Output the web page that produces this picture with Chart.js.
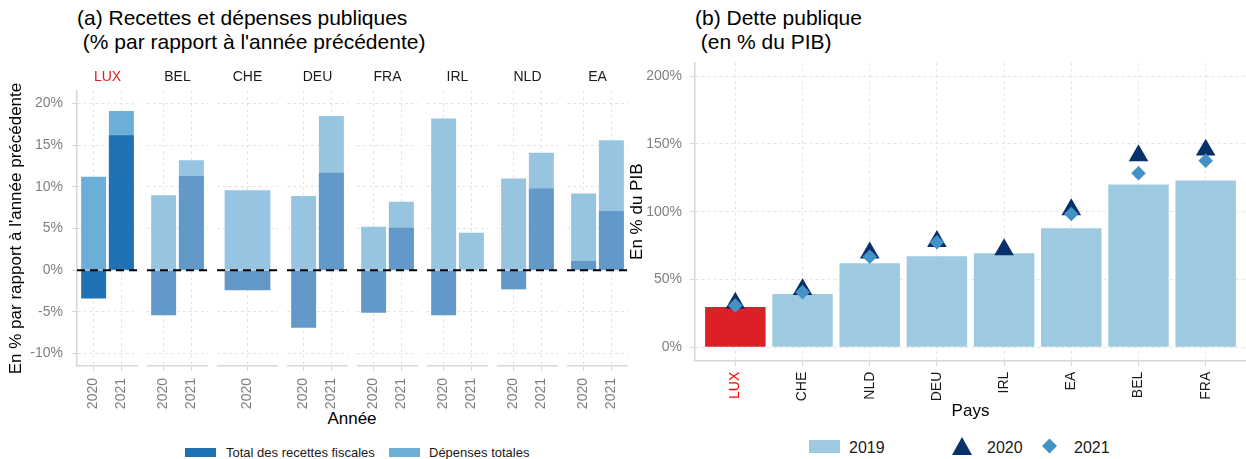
<!DOCTYPE html>
<html>
<head>
<meta charset="utf-8">
<script src="https://cdn.jsdelivr.net/npm/chart.js@4.4.1/dist/chart.umd.min.js"></script>
<style>
  html, body { margin:0; padding:0; background:#fff; }
  body { width:1246px; height:459px; position:relative; overflow:hidden;
         font-family:"Liberation Sans", Arial, sans-serif; color:#000; }
  .abs { position:absolute; white-space:pre; }
  .ttl { font-size:21px; line-height:24px; }
  canvas { position:absolute; }
</style>
</head>
<body>
<div class="abs ttl" style="left:77px;top:6px">(a) Recettes et dépenses publiques
 (% par rapport à l'année précédente)</div>
<div class="abs ttl" style="left:695px;top:6px">(b) Dette publique
 (en % du PIB)</div>

<div class="abs" style="left:252px;top:409px;width:200px;text-align:center;font-size:17px;line-height:20px">Année</div>

<div class="abs" style="left:185px;top:448px;width:31px;height:9px;background:#2171b5"></div>
<div class="abs" style="left:226px;top:445px;font-size:13px;line-height:15px;color:#1a1a1a">Total des recettes fiscales</div>
<div class="abs" style="left:389px;top:448px;width:31px;height:9px;background:#6baed6"></div>
<div class="abs" style="left:429px;top:445px;font-size:13px;line-height:15px;color:#1a1a1a">Dépenses totales</div>

<div class="abs" style="left:809px;top:440px;width:31px;height:13px;background:#9ecae1"></div>
<div class="abs" style="left:849px;top:439px;font-size:16px;line-height:18px;color:#1a1a1a">2019</div>
<svg class="abs" style="left:952px;top:437px" width="20" height="18"><polygon points="10,0 20,18 0,18" fill="#08306b"/></svg>
<div class="abs" style="left:987px;top:439px;font-size:16px;line-height:18px;color:#1a1a1a">2020</div>
<svg class="abs" style="left:1042px;top:438px" width="15" height="16"><polygon points="7.5,0.5 15,8 7.5,15.5 0,8" fill="#4292c6"/></svg>
<div class="abs" style="left:1074px;top:439px;font-size:16px;line-height:18px;color:#1a1a1a">2021</div>

<canvas id="f0" width="138" height="352" style="left:0px;top:61px"></canvas>
<canvas id="f1" width="61" height="352" style="left:147px;top:61px"></canvas>
<canvas id="f2" width="61" height="352" style="left:217px;top:61px"></canvas>
<canvas id="f3" width="61" height="352" style="left:287px;top:61px"></canvas>
<canvas id="f4" width="61" height="352" style="left:357px;top:61px"></canvas>
<canvas id="f5" width="61" height="352" style="left:427px;top:61px"></canvas>
<canvas id="f6" width="61" height="352" style="left:497px;top:61px"></canvas>
<canvas id="f7" width="61" height="352" style="left:567px;top:61px"></canvas>
<canvas id="debt" width="626" height="370" style="left:620px;top:55px"></canvas>

<script>
// ---------- Data: panel (a) ----------
const countriesA = ['LUX', 'BEL', 'CHE', 'DEU', 'FRA', 'IRL', 'NLD', 'EA'];
const yearsA = [['2020','2021'], ['2020','2021'], ['2020'], ['2020','2021'],
                ['2020','2021'], ['2020','2021'], ['2020','2021'], ['2020','2021']];
const recettes = [[-3.4, 16.2], [-5.4, 11.3], [-2.4], [-6.9, 11.7],
                  [-5.1, 5.1], [-5.4, null], [-2.3, 9.8], [1.1, 7.1]];
const depenses = [[11.2, 19.1], [9.0, 13.2], [9.6], [8.9, 18.5],
                  [5.2, 8.2], [18.2, 4.5], [11.0, 14.1], [9.2, 15.6]];
const yTicksA = [-10, -5, 0, 5, 10, 15, 20];

// ---------- Data: panel (b) ----------
const countriesB = ['LUX', 'CHE', 'NLD', 'DEU', 'IRL', 'EA', 'BEL', 'FRA'];
const dette2019 = [29.7, 39.2, 62.0, 67.2, 69.4, 87.7, 120.1, 123.0];
const dette2020 = [32.5, 42.6, 69.6, 78.2, 72.1, 101.5, 141.4, 145.6];
const dette2021 = [30.8, 40.6, 66.7, 77.5, null, 98.3, 128.4, 137.7];
const yTicksB = [0, 50, 100, 150, 200];

Chart.defaults.font.family = '"Liberation Sans", Arial, sans-serif';
Chart.defaults.animation = false;

const GRID = '#dedede';
const AXIS = '#d6d6d6';

const noPad = s => { s.paddingTop = 0; s.paddingBottom = 0; s.paddingLeft = 0; s.paddingRight = 0; };

const zeroLine = {
  id: 'zeroLine',
  afterDatasetsDraw(chart) {
    const {ctx, chartArea: a, scales: {y}} = chart;
    const py = y.getPixelForValue(0);
    ctx.save();
    ctx.setLineDash([8, 5]);
    ctx.lineWidth = 2;
    ctx.strokeStyle = '#000';
    ctx.beginPath();
    ctx.moveTo(a.left, py);
    ctx.lineTo(a.right, py);
    ctx.stroke();
    ctx.restore();
  }
};

countriesA.forEach((c, i) => {
  const first = i === 0;
  const hi = c === 'LUX';
  const yrs = yearsA[i];
  const n = yrs.length;
  const bp = n === 1 ? 0.75 : 0.9;
  new Chart(document.getElementById('f' + i), {
    type: 'bar',
    data: {
      datasets: [
        { label: 'Total des recettes fiscales',
          data: yrs.map((y, j) => ({x: j + 1, y: recettes[i][j]})),
          backgroundColor: hi ? '#2171b5' : '#6399c8',
          grouped: false, categoryPercentage: 1, barPercentage: bp },
        { label: 'Dépenses totales',
          data: yrs.map((y, j) => ({x: j + 1, y: depenses[i][j]})),
          backgroundColor: hi ? '#6baed6' : '#97c4e0',
          grouped: false, categoryPercentage: 1, barPercentage: bp }
      ]
    },
    options: {
      responsive: false,
      animation: false,
      layout: { padding: 0, autoPadding: false },
      plugins: {
        legend: { display: false },
        tooltip: { enabled: false },
        title: { display: true, fullSize: false, text: c, color: hi ? '#e41a1c' : '#1a1a1a',
                 font: { size: 14, weight: 'normal' }, padding: { top: 8, bottom: 5.2 } }
      },
      scales: {
        x: {
          type: 'linear', min: 0.4, max: n + 0.6, offset: false,
          afterBuildTicks: s => { s.ticks = yrs.map((y, j) => ({value: j + 1})); },
          afterFit: s => { s.height = 47; noPad(s); },
          ticks: { callback: v => yrs[v - 1], minRotation: 90, maxRotation: 90, autoSkip: false,
                   color: '#7f7f7f', font: { size: 14 }, padding: 7 },
          grid: { offset: false, color: GRID, lineWidth: 0.8, tickLength: 5, tickColor: AXIS, tickWidth: 1 },
          border: { display: true, color: AXIS, width: 1.5, dash: [3, 3] }
        },
        y: {
          min: -11.5, max: 21.5,
          afterBuildTicks: s => { s.ticks = yTicksA.map(v => ({value: v})); },
          afterFit: s => { s.width = first ? 77 : 0; noPad(s); },
          ticks: { display: first, callback: v => v + '%', color: '#7f7f7f', font: { size: 14 }, padding: 9 },
          grid: { color: GRID, lineWidth: 0.8, drawTicks: first, tickLength: 5, tickColor: AXIS, tickWidth: 1 },
          border: { display: first, color: AXIS, width: 1.5, dash: [3, 3] },
          title: { display: first, text: "En % par rapport à l'année précédente", color: '#000',
                   font: { size: 17 }, padding: { top: 6, bottom: 0 } }
        }
      }
    },
    plugins: [zeroLine]
  });
});

new Chart(document.getElementById('debt'), {
  type: 'bar',
  data: {
    datasets: [
      { type: 'bar', label: '2019',
        data: countriesB.map((c, i) => ({x: i + 1, y: dette2019[i]})),
        backgroundColor: countriesB.map(c => c === 'LUX' ? '#dd2027' : '#9ecae1'),
        grouped: false, categoryPercentage: 1, barPercentage: 0.9, order: 3 },
      { type: 'line', label: '2020',
        data: countriesB.map((c, i) => ({x: i + 1, y: dette2020[i]})),
        showLine: false, pointStyle: 'triangle', pointRadius: 11.3,
        pointBackgroundColor: '#08306b', pointBorderWidth: 0, order: 2 },
      { type: 'line', label: '2021',
        data: countriesB.map((c, i) => ({x: i + 1, y: dette2021[i]})),
        showLine: false, pointStyle: 'rectRot', pointRadius: 7.3,
        pointBackgroundColor: '#4292c6', pointBorderWidth: 0, order: 1 }
    ]
  },
  options: {
    responsive: false,
    animation: false,
    layout: { padding: { top: 7.7, left: 0, right: 0, bottom: 0 }, autoPadding: false },
    plugins: { legend: { display: false }, tooltip: { enabled: false } },
    scales: {
      x: {
        type: 'linear', min: 0.4, max: countriesB.length + 0.6, offset: false,
        afterBuildTicks: s => { s.ticks = countriesB.map((c, i) => ({value: i + 1})); },
        afterFit: s => { s.height = 64.3; noPad(s); },
        ticks: { callback: v => countriesB[v - 1], minRotation: 90, maxRotation: 90, autoSkip: false,
                 color: ctx => countriesB[ctx.index] === 'LUX' ? '#ff0000' : '#1a1a1a',
                 font: { size: 14 }, padding: 6 },
        grid: { offset: false, color: GRID, lineWidth: 0.8, tickLength: 5, tickColor: AXIS, tickWidth: 1 },
        border: { display: true, color: AXIS, width: 1.5, dash: [3, 3] },
        title: { display: true, text: 'Pays', color: '#000', font: { size: 17 }, padding: { top: 0, bottom: 3 } }
      },
      y: {
        min: -10, max: 210,
        afterBuildTicks: s => { s.ticks = yTicksB.map(v => ({value: v})); },
        afterFit: s => { s.width = 75; noPad(s); },
        ticks: { callback: v => v + '%', color: '#7f7f7f', font: { size: 14 }, padding: 8 },
        grid: { color: GRID, lineWidth: 0.8, tickLength: 5, tickColor: AXIS, tickWidth: 1 },
        border: { display: true, color: AXIS, width: 1.5, dash: [3, 3] },
        title: { display: true, text: 'En % du PIB', color: '#000', font: { size: 17 }, padding: { top: 6.8, bottom: 0 } }
      }
    }
  }
});
</script>
</body>
</html>
